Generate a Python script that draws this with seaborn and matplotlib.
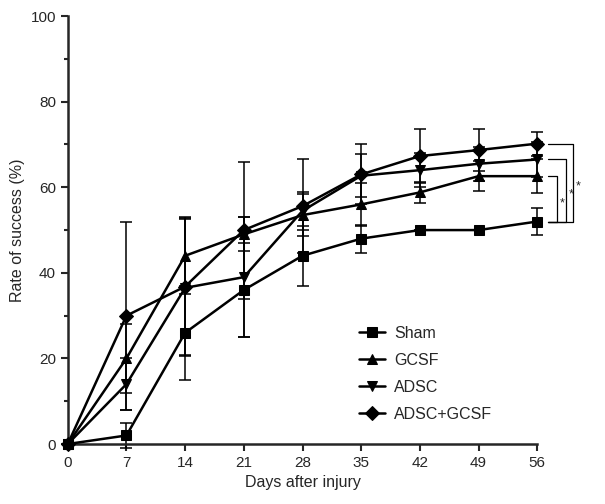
import numpy as np
import pandas as pd
import seaborn as sns
from matplotlib import pyplot as plt

days = [0, 7, 14, 21, 28, 35, 42, 49, 56]
groups = ['Sham', 'GCSF', 'ADSC', 'ADSC+GCSF']
markers = ['s', '^', 'v', 'D']

sham = [0, 2, 26, 36, 44, 48, 50, 50, 52]
gcsf = [0, 20, 44, 49, 53.5, 56, 58.8, 62.6, 62.6]
adsc = [0, 14, 36.5, 39, 54.5, 62.7, 64, 65.5, 66.5]
combo = [0, 30, 36.8, 50, 55.6, 63, 67.3, 68.7, 70.2]

sham_err = [0, 3, 11, 11, 7, 3.3, 0, 0, 3.2]
gcsf_err = [0, 8, 9, 4, 5, 5, 2.5, 3.5, 4]
adsc_err = [0, 6, 16, 14, 4.5, 5, 4, 4, 4]
combo_err = [0, 22, 16, 16, 11, 7, 6.3, 5, 2.8]

means = [sham, gcsf, adsc, combo]
errs = [sham_err, gcsf_err, adsc_err, combo_err]

df = pd.DataFrame({
    'day': days * 4,
    'rate': sham + gcsf + adsc + combo,
    'group': np.repeat(groups, len(days)),
})

sns.set_style('ticks')
plt.rcParams['font.family'] = ['Liberation Sans Narrow', 'Liberation Sans', 'DejaVu Sans']

fig = plt.figure(figsize=(6.05, 5.04), dpi=100)
ax = fig.add_axes([0.112, 0.119, 0.776, 0.849])

for g, m, y, e in zip(groups, markers, means, errs):
    ax.errorbar(days, y, yerr=e, fmt='none', ecolor='black', elinewidth=1.1,
                capsize=4.5, capthick=1.1, clip_on=False, zorder=2)

sns.lineplot(data=df, x='day', y='rate', hue='group', style='group',
             markers=dict(zip(groups, markers)), dashes=False,
             palette=['black'] * 4, linewidth=1.8, markersize=7,
             markeredgecolor='black', ax=ax, clip_on=False, zorder=3)

# significance brackets
ref_y = sham[-1]
for i, (xv, top) in enumerate([(58.4, gcsf[-1]), (59.4, adsc[-1]), (60.3, combo[-1])]):
    ax.plot([57.3, xv, xv, 57.3], [top, top, ref_y, ref_y], color='black',
            lw=0.9, clip_on=False)
    ax.text(xv + 0.3, (top + ref_y) / 2 - 1, '*', fontsize=9, ha='left',
            va='center', clip_on=False)

ax.set_xlim(0, 56)
ax.set_ylim(0, 100)
ax.set_xticks(days)
ax.set_yticks([0, 20, 40, 60, 80, 100])
ax.set_yticks([10, 30, 50, 70, 90], minor=True)
ax.tick_params(axis='both', which='major', labelsize=11, width=1.5, length=5, direction='out')
ax.tick_params(axis='y', which='minor', width=1.5, length=3)
for s in ['left', 'bottom']:
    ax.spines[s].set_linewidth(1.8)
sns.despine(ax=ax)

ax.set_xlabel('Days after injury', fontsize=11.5)
ax.set_ylabel('Rate of success (%)', fontsize=11.5)

ax.legend(handles=ax.get_legend_handles_labels()[0], labels=groups,
          loc='upper left', bbox_to_anchor=(0.59, 0.31), frameon=False,
          fontsize=11.5, handlelength=1.6, handletextpad=0.6, labelspacing=0.75)

fig.savefig('out.png', dpi=100)
